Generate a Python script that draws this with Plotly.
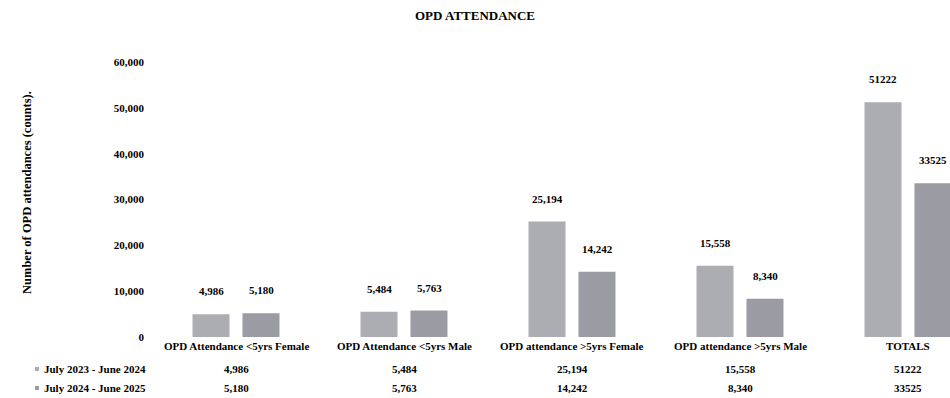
import plotly.graph_objects as go

categories = ["OPD Attendance <5yrs Female", "OPD Attendance <5yrs Male",
              "OPD attendance >5yrs Female", "OPD attendance >5yrs Male", "TOTALS"]
series_names = ["July 2023 - June 2024", "July 2024 - June 2025"]
values_2023 = [4986, 5484, 25194, 15558, 51222]
values_2024 = [5180, 5763, 14242, 8340, 33525]
y_ticks = [0, 10000, 20000, 30000, 40000, 50000, 60000]


def fmt(v, cat):
    return str(v) if cat == "TOTALS" else f"{v:,}"


labels_2023 = [fmt(v, c) for v, c in zip(values_2023, categories)]
labels_2024 = [fmt(v, c) for v, c in zip(values_2024, categories)]

FONT = "Liberation Serif"
C1 = "#acacb3"
C2 = "#9b9ba3"

L, T, W, H = 152, 62, 798, 275
FIG_W, FIG_H = 950, 398


def px_x(px):
    return (px - L) / W


def px_y(py):
    return (T + H - py) / H


xs = list(range(len(categories)))

fig = go.Figure()
fig.add_trace(go.Bar(x=xs, y=values_2023, name=series_names[0], marker_color=C1,
                     marker_line_width=0, showlegend=False))
fig.add_trace(go.Bar(x=xs, y=values_2024, name=series_names[1], marker_color=C2,
                     marker_line_width=0, showlegend=False))

ann = []
bold = dict(family=FONT, size=11, color="black", weight="bold")
# bar value labels
for i in xs:
    ann.append(dict(x=i, y=values_2023[i], xref="x", yref="y", text=labels_2023[i],
                    showarrow=False, xshift=-25, yshift=15, yanchor="bottom", font=bold))
    ann.append(dict(x=i, y=values_2024[i], xref="x", yref="y", text=labels_2024[i],
                    showarrow=False, xshift=25, yshift=15, yanchor="bottom", font=bold))
# data table
for i in xs:
    ann.append(dict(x=i, y=px_y(346), xref="x", yref="paper", text=categories[i],
                    showarrow=False, yanchor="middle", font=bold))
    ann.append(dict(x=i, y=px_y(369), xref="x", yref="paper", text=labels_2023[i],
                    showarrow=False, yanchor="middle", font=bold))
    ann.append(dict(x=i, y=px_y(388), xref="x", yref="paper", text=labels_2024[i],
                    showarrow=False, yanchor="middle", font=bold))
for name, py in zip(series_names, [369, 388]):
    ann.append(dict(x=px_x(42), y=px_y(py), xref="paper", yref="paper", text=name,
                    showarrow=False, xanchor="left", yanchor="middle", font=bold))

# axis title
ann.append(dict(x=px_x(18), y=px_y(193), xref="paper", yref="paper",
                text="Number of OPD attendances (counts).", textangle=-90,
                showarrow=False, font=dict(family=FONT, size=12.5, color="black", weight="bold")))

shapes = []
for col, py in zip([C1, C2], [369, 388]):
    shapes.append(dict(type="rect", xref="paper", yref="paper",
                       x0=px_x(35), x1=px_x(39), y0=px_y(py + 2), y1=px_y(py - 2),
                       fillcolor=col, line_width=0))

fig.update_layout(
    width=FIG_W, height=FIG_H,
    margin=dict(l=L, r=FIG_W - L - W, t=T, b=FIG_H - T - H),
    paper_bgcolor="white", plot_bgcolor="white",
    barmode="group", bargap=0.405, bargroupgap=0.26,
    title=dict(text="OPD ATTENDANCE", x=0.5, xref="container", xanchor="center",
               y=1 - 15 / FIG_H, yref="container", yanchor="middle",
               font=dict(family=FONT, size=13, color="black", weight="bold")),
    xaxis=dict(range=[-0.5, 4.25], showticklabels=False, showgrid=False, zeroline=False,
               showline=False, ticks=""),
    yaxis=dict(range=[0, 60000], tickvals=y_ticks, tickformat=",", showgrid=False,
               zeroline=False, showline=False, ticks="", ticklabelstandoff=7,
               tickfont=dict(family=FONT, size=11, color="black", weight="bold")),
    annotations=ann, shapes=shapes,
)

fig.write_html("out.html")
